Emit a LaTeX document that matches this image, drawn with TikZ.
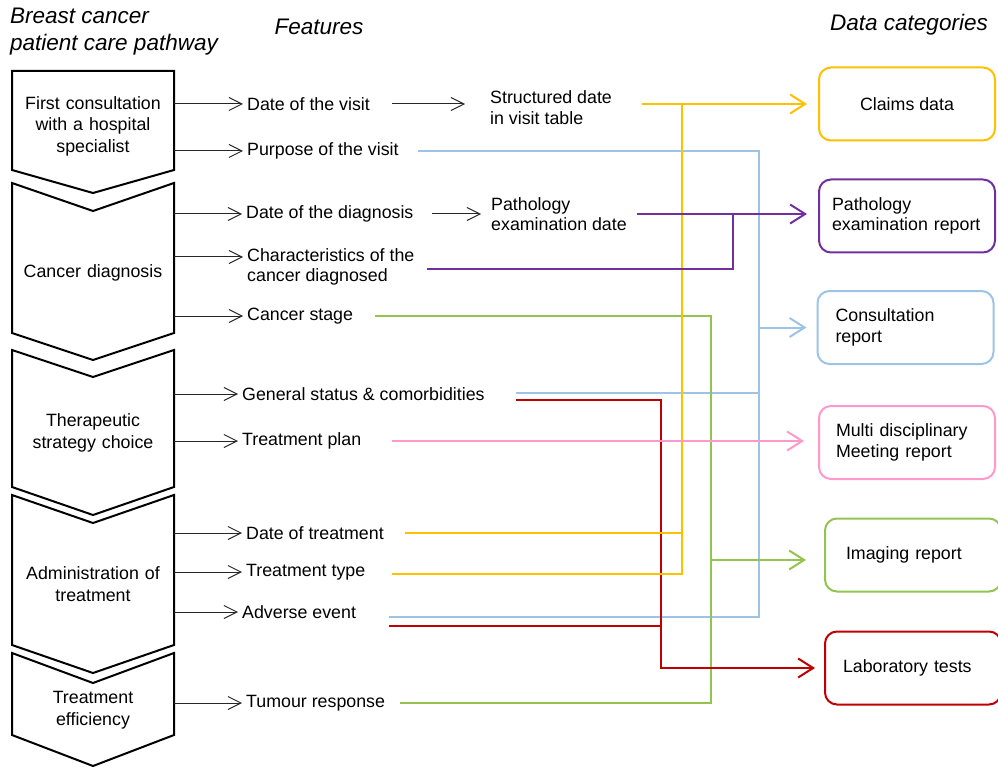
\documentclass[tikz,border=0pt]{standalone}
\usepackage{fontspec}
\setmainfont{Liberation Sans}
\usetikzlibrary{arrows.meta,calc}

\definecolor{claimsyellow}{RGB}{255,192,0}
\definecolor{consultblue}{RGB}{157,195,230}
\definecolor{pathpurple}{RGB}{112,48,160}
\definecolor{imggreen}{RGB}{146,196,80}
\definecolor{labred}{RGB}{192,0,0}
\definecolor{mdtpink}{RGB}{255,153,204}

\tikzset{
  stage/.style={text width=150pt,align=center,inner xsep=6pt,font=\fontsize{17.8}{21.5}\selectfont},
  feature/.style={anchor=west,align=left,inner xsep=4pt,font=\fontsize{17.8}{20.5}\selectfont},
  category/.style={draw,line width=2pt,rounded corners=12pt,minimum width=176pt,minimum height=73pt,font=\fontsize{17.8}{20.5}\selectfont},
  heading/.style={inner sep=0pt,align=left,font=\fontsize{22.5}{27}\selectfont\itshape},
  chevron/.style={draw=black,line width=2pt,line join=miter},
  feat/.style={draw=black!85,line width=1pt,-{Straight Barb[length=13pt,width=13pt]}},
  dataline/.style={line width=2pt},
  catarrow/.style={-{Straight Barb[length=15pt,width=19pt]}},
}

\begin{document}
\begin{tikzpicture}[x=1pt,y=-1pt]
  \useasboundingbox (0,0) rectangle (998,767);

  % Headings
  \node[heading,anchor=west] (pathwaytitle) at (10,31.5) {Breast cancer\\patient care pathway};
  \node[heading] (featuretitle) at (319,27) {Features};
  \node[heading] (categorytitle) at (909,25) {Data categories};

  % Care pathway chevrons
  \draw[chevron] (12,71) -- (174,71) -- (174,170) -- (93,193) -- (12,170) -- cycle;
  \draw[chevron] (12,183) -- (93,211) -- (174,183) -- (174,333) -- (93,360) -- (12,333) -- cycle;
  \draw[chevron] (12,350) -- (93,377) -- (174,350) -- (174,487) -- (93,515) -- (12,487) -- cycle;
  \draw[chevron] (12,495) -- (93,523) -- (174,495) -- (174,645) -- (93,673) -- (12,645) -- cycle;
  \draw[chevron] (12,653) -- (93,683) -- (174,653) -- (174,735) -- (93,766) -- (12,735) -- cycle;
  \node[stage] (consult)    at (93,126) {First consultation\\with a hospital\\specialist};
  \node[stage] (diagnosis)  at (93,273) {Cancer diagnosis};
  \node[stage] (strategy)   at (93,433) {Therapeutic\\strategy choice};
  \node[stage] (admin)      at (93,584) {Administration of\\treatment};
  \node[stage] (efficiency) at (93,710) {Treatment\\efficiency};

  % Features
  \node[feature] (visitdate)       at (243,104) {Date of the visit};
  \node[feature] (visitpurpose)    at (243,151) {Purpose of the visit};
  \node[feature] (diagdate)        at (242,214) {Date of the diagnosis};
  \node[feature] (characteristics) at (243,267) {Characteristics of the\\cancer diagnosed};
  \node[feature] (stagefeat)       at (243,316) {Cancer stage};
  \node[feature] (status)          at (238,394) {General status \& comorbidities};
  \node[feature] (plan)            at (238,441) {Treatment plan};
  \node[feature] (treatdate)       at (242,533) {Date of treatment};
  \node[feature] (treattype)       at (242,572) {Treatment type};
  \node[feature] (adverse)         at (238,612) {Adverse event};
  \node[feature] (response)        at (242,703) {Tumour response};
  \node[feature] (visittable)      at (486,107.5) {Structured date\\in visit table};
  \node[feature] (pathdate)        at (487,214) {Pathology\\examination date};

  \draw[feat] (consult.east |- visitdate.west) -- (visitdate.west);
  \draw[feat] (consult.east |- visitpurpose.west) -- (visitpurpose.west);
  \draw[feat] (diagnosis.east |- diagdate.west) -- (diagdate.west);
  \draw[feat] ([yshift=10pt]characteristics.west -| diagnosis.east) -- ([yshift=10pt]characteristics.west);
  \draw[feat] (diagnosis.east |- stagefeat.west) -- (stagefeat.west);
  \draw[feat] (strategy.east |- status.west) -- (status.west);
  \draw[feat] (strategy.east |- plan.west) -- (plan.west);
  \draw[feat] (admin.east |- treatdate.west) -- (treatdate.west);
  \draw[feat] (admin.east |- treattype.west) -- (treattype.west);
  \draw[feat] (admin.east |- adverse.west) -- (adverse.west);
  \draw[feat] (efficiency.east |- response.west) -- (response.west);
  \draw[feat,shorten <=18pt,shorten >=21pt] (visitdate.east) -- (visitdate.east -| visittable.west);
  \draw[feat,shorten <=14pt,shorten >=6pt] (diagdate.east) -- (diagdate.east -| pathdate.west);

  % Data categories
  \node[category,draw=claimsyellow] (claims) at (907,104) {Claims data};
  \node[category,draw=pathpurple,align=left,text width=150pt,inner xsep=13pt] (pathology) at (907,216) {Pathology\\examination report};
  \node[category,draw=consultblue,align=left,text width=140pt,inner xsep=18pt] (consultation) at (905.5,327.5) {Consultation\\report};
  \node[category,draw=mdtpink,align=left,text width=142pt,inner xsep=17pt] (meeting) at (907,442.5) {Multi disciplinary\\Meeting report};
  \node[category,draw=imggreen,align=left,text width=134pt,inner xsep=20pt] (imaging) at (913,555) {Imaging report};
  \node[category,draw=labred,align=left,text width=140pt,inner xsep=17pt] (labtests) at (913,668) {Laboratory tests};

  \coordinate (rtrunk) at (661,0);
  \coordinate (ytrunk) at (682,0);
  \coordinate (gtrunk) at (711,0);
  \coordinate (ptrunk) at (733,0);
  \coordinate (btrunk) at (759,0);

  % blue
  \draw[dataline,consultblue,shorten <=15pt,shorten >=29pt] (visitpurpose.east) -| ([yshift=-5pt]adverse.east -| btrunk) -- ([yshift=-5pt]adverse.east);
  \draw[dataline,consultblue,shorten <=27pt] ([yshift=1pt]status.east) -- ([yshift=1pt]status.east -| btrunk);
  \draw[dataline,consultblue,catarrow,shorten >=10pt] (consultation.west -| btrunk) -- (consultation.west);
  % green
  \draw[dataline,imggreen,shorten <=18pt,shorten >=11pt] (stagefeat.east) -| (response.east -| gtrunk) -- (response.east);
  \draw[dataline,imggreen,catarrow,shorten >=18pt] ([yshift=-5pt]imaging.west -| gtrunk) -- ([yshift=-5pt]imaging.west);
  % red
  \draw[dataline,labred,catarrow,shorten <=27pt,shorten >=9pt] ([yshift=-6pt]status.east) -| (labtests.west -| rtrunk) -- (labtests.west);
  \draw[dataline,labred,shorten <=29pt] ([yshift=-14pt]adverse.east) -- ([yshift=-14pt]adverse.east -| rtrunk);
  % yellow
  \draw[dataline,claimsyellow,catarrow,shorten <=26pt,shorten >=11pt] (claims.west -| visittable.east) -- (claims.west);
  \draw[dataline,claimsyellow,shorten <=17pt] (treatdate.east) -- (treatdate.east -| ytrunk);
  \draw[dataline,claimsyellow,shorten <=23pt] ([yshift=-2pt]treattype.east) -| (ytrunk |- claims.west);
  % purple
  \draw[dataline,pathpurple,catarrow,shorten <=6pt,shorten >=11pt] (pathdate.east) -- (pathdate.east -| pathology.west);
  \draw[dataline,pathpurple,shorten <=8pt] ([yshift=-2pt]characteristics.east) -| (pathdate.east -| ptrunk);
  % pink
  \draw[dataline,mdtpink,catarrow,shorten <=27pt,shorten >=14pt] (plan.east) -- (plan.east -| meeting.west);
\end{tikzpicture}
\end{document}
